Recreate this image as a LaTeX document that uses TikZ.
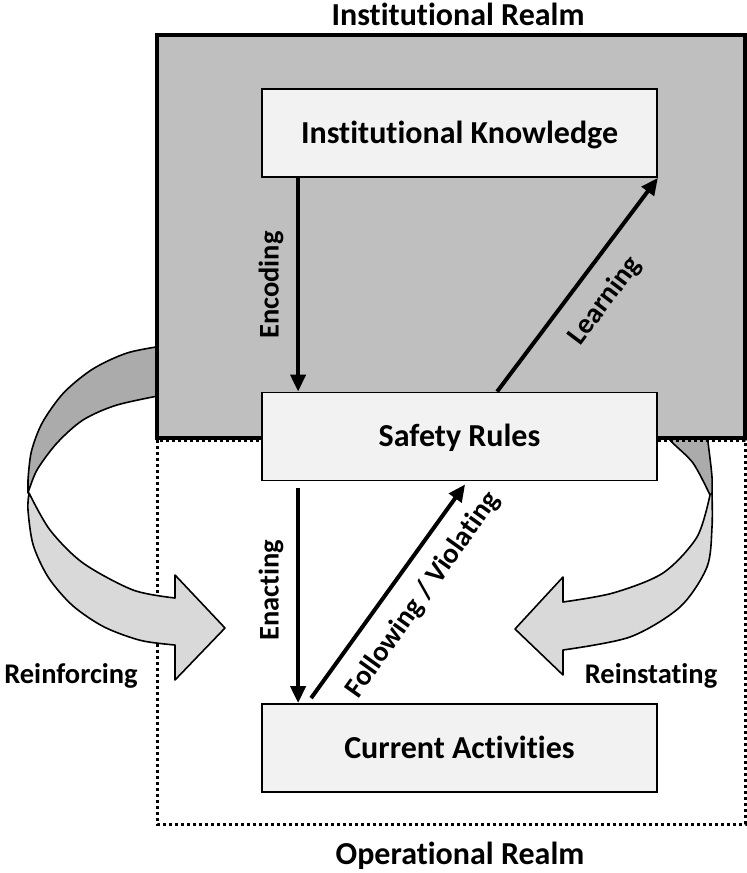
\documentclass[tikz,border=0pt]{standalone}
\usepackage{fontspec}
\setmainfont{Carlito}[Ligatures=NoCommon]
\usetikzlibrary{arrows.meta}
\definecolor{realmgray}{HTML}{BFBFBF}
\definecolor{boxfill}{HTML}{F2F2F2}
\definecolor{ribbondark}{HTML}{ABABAB}
\definecolor{ribbonlight}{HTML}{D9D9D9}

\begin{document}
\begin{tikzpicture}[x=1pt,y=-1pt,
  concept/.style={draw=black, line width=1.8pt, fill=boxfill,
    minimum width=395pt, minimum height=88pt, inner sep=0pt,
    font=\fontsize{32}{38}\selectfont\bfseries,
    text height=20.6pt, text depth=0pt},
  flow/.style={line width=4pt, -{Triangle[length=17pt,width=15pt]}},
  realmlabel/.style={font=\fontsize{32}{38}\selectfont\bfseries,
    anchor=base, inner sep=0pt},
  edgelabel/.style={font=\fontsize{28.5}{34}\selectfont\bfseries,
    inner sep=0pt},
  ribbon/.style={draw=black, line width=1.6pt, line join=round}
]
\useasboundingbox (0,0) rectangle (747,873);

% right feedback ribbon (Reinstating), partly hidden by the realm box
\path[ribbon, fill=ribbondark]
  plot[smooth] coordinates {(666,428) (670,440) (693,463) (710,495)}
  -- plot[smooth] coordinates {(712,495) (712,477) (709,450) (706,428)}
  -- cycle;
\path[ribbon, fill=ribbonlight]
  plot[smooth] coordinates {(712,493) (712,527) (707,567) (680,607) (630,637) (563,650)}
  -- (563,675) -- (515,629) -- (563,577) -- (563,602)
  -- plot[smooth] coordinates {(563,602) (613,593) (663,573) (697,537) (710,495)}
  -- cycle;

% operational realm frame
\draw[line width=3pt, dash pattern=on 3pt off 3pt] (157,440) rectangle (745,824);

% left feedback ribbon (Reinforcing)
\path[ribbon, fill=ribbondark]
  plot[smooth] coordinates {(170,344.8) (128,352.7) (92.8,369) (63.6,392.9) (42.3,422.7) (31.3,451.8) (28,480)}
  -- (28,493)
  -- plot[smooth] coordinates {(28,493) (37,470) (57,443) (83,420) (117,405) (168,394)}
  -- cycle;
\path[ribbon, fill=ribbonlight]
  plot[smooth] coordinates {(29,493) (28,510) (33.2,545) (48.4,577.5) (72.5,605.5) (104,626.9) (140.6,640.4) (175,645)}
  -- (175,680) -- (225,628) -- (175,575) -- (175,598)
  -- plot[smooth] coordinates {(175,598) (133,590) (83,563) (50,530) (29,493)}
  -- cycle;

% institutional realm frame
\draw[line width=4pt, fill=realmgray] (157,35) rectangle (745,438);

% realm titles
\node[realmlabel] (titleInst) at (458,25) {Institutional Realm};
\node[realmlabel] (titleOper) at (460,864) {Operational Realm};

% the three stages
\node[concept] (IK) at (459.5,133) {Institutional Knowledge};
\node[concept] (SR) at (459.5,436.5) {Safety Rules};
\node[concept] (CA) at (459.5,748) {Current Activities};

% flows between stages
\draw[flow] ([xshift=37pt]IK.south west) -- ([xshift=37pt]SR.north west);
\draw[flow] ([xshift=236pt]SR.north west) -- (IK.south east);
\draw[flow] ([shift={(37pt,-7pt)}]SR.south west) -- ([xshift=37pt]CA.north west);
\draw[flow] ([shift={(50pt,5pt)}]CA.north west) -- ([shift={(204pt,-3pt)}]SR.south west);

% flow labels
\node[edgelabel, rotate=90] (lblEnc) at (271,285) {Encoding};
\node[edgelabel, rotate=53] (lblLearn) at (605,301) {Learning};
\node[edgelabel, rotate=90] (lblEnact) at (271,590) {Enacting};
\node[edgelabel, rotate=54.5] (lblFollow) at (423,595) {Following / Violating};

% ribbon labels
\node[edgelabel, anchor=base] (lblReinf) at (71,683) {Reinforcing};
\node[edgelabel, anchor=base] (lblReinst) at (651,683) {Reinstating};
\end{tikzpicture}
\end{document}
